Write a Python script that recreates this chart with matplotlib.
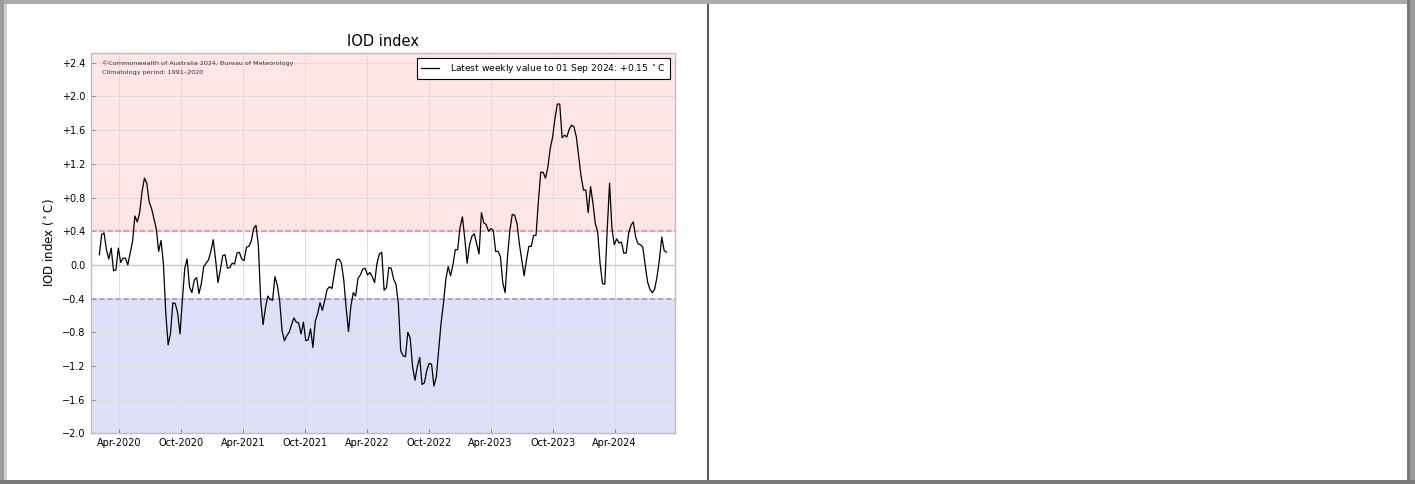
import matplotlib
matplotlib.use("Agg")
import matplotlib.pyplot as plt
import matplotlib.dates as mdates
from matplotlib.patches import Rectangle
from matplotlib.ticker import FuncFormatter, MultipleLocator
import pandas as pd

# ---------------- data ----------------
start_date = "2020-02-02"
iod_values = [
    0.12, 0.36, 0.38, 0.18, 0.07, 0.20, -0.07, -0.06, 0.20, 0.03,
    0.08, 0.08, 0.00, 0.14, 0.28, 0.58, 0.51, 0.62, 0.87, 1.03,
    0.97, 0.75, 0.67, 0.55, 0.43, 0.16, 0.29, 0.02, -0.57, -0.95,
    -0.81, -0.45, -0.46, -0.57, -0.82, -0.42, -0.04, 0.07, -0.26, -0.33,
    -0.18, -0.15, -0.34, -0.22, -0.02, 0.02, 0.06, 0.16, 0.30, 0.06,
    -0.21, -0.06, 0.11, 0.12, -0.04, -0.03, 0.02, 0.01, 0.14, 0.15,
    0.07, 0.05, 0.21, 0.22, 0.28, 0.43, 0.47, 0.24, -0.42, -0.71,
    -0.51, -0.37, -0.41, -0.42, -0.14, -0.24, -0.43, -0.78, -0.90, -0.84,
    -0.80, -0.71, -0.63, -0.68, -0.69, -0.82, -0.68, -0.90, -0.89, -0.76,
    -0.98, -0.67, -0.58, -0.45, -0.54, -0.42, -0.29, -0.26, -0.28, -0.11,
    0.06, 0.07, 0.02, -0.18, -0.51, -0.79, -0.49, -0.33, -0.37, -0.16,
    -0.12, -0.05, -0.04, -0.12, -0.09, -0.14, -0.21, 0.02, 0.13, 0.15,
    -0.30, -0.27, -0.03, -0.04, -0.17, -0.23, -0.46, -1.02, -1.08, -1.09,
    -0.80, -0.87, -1.21, -1.37, -1.21, -1.10, -1.42, -1.40, -1.25, -1.17,
    -1.18, -1.44, -1.33, -1.01, -0.69, -0.46, -0.17, -0.02, -0.13, 0.00,
    0.18, 0.18, 0.45, 0.57, 0.31, 0.02, 0.24, 0.34, 0.37, 0.25,
    0.13, 0.62, 0.50, 0.48, 0.40, 0.43, 0.41, 0.16, 0.16, 0.10,
    -0.21, -0.33, 0.10, 0.41, 0.60, 0.59, 0.49, 0.25, 0.06, -0.13,
    0.06, 0.22, 0.22, 0.35, 0.35, 0.75, 1.10, 1.10, 1.03, 1.16,
    1.38, 1.52, 1.74, 1.91, 1.91, 1.51, 1.54, 1.52, 1.61, 1.66,
    1.64, 1.52, 1.28, 1.05, 0.89, 0.89, 0.62, 0.93, 0.73, 0.49,
    0.39, 0.02, -0.22, -0.23, 0.41, 0.97, 0.43, 0.24, 0.31, 0.26,
    0.27, 0.14, 0.14, 0.37, 0.47, 0.51, 0.33, 0.25, 0.24, 0.21,
    0.00, -0.20, -0.29, -0.33, -0.29, -0.14, 0.06, 0.33, 0.17, 0.15,
]
dates = pd.date_range(start_date, periods=len(iod_values), freq="7D")

title = "IOD index"
ylabel = "IOD index ($^\\circ$C)"
legend_label = "Latest weekly value to 01 Sep 2024: +0.15 $^\\circ$C"
credit_lines = ["\u00a9Commonwealth of Australia 2024, Bureau of Meteorology",
                "Climatology period: 1991\u20132020"]
x_start, x_end = "2020-01-07", "2024-09-26"
pos_threshold, neg_threshold = 0.4, -0.4

# ---------------- figure ----------------
W, H = 1415, 484
fig = plt.figure(figsize=(W / 100, H / 100), dpi=100)
fig.patch.set_facecolor("white")


def px_rect(x0, y0, x1, y1, color):
    fig.add_artist(Rectangle((x0 / W, 1 - y1 / H), (x1 - x0) / W, (y1 - y0) / H,
                             transform=fig.transFigure, facecolor=color,
                             edgecolor="none", zorder=10))


# frame / panel borders
px_rect(0, 0, W, 4, "#ababab")
px_rect(0, 0, 4, H, "#9c9c9c")
px_rect(4, 4, 7, 480, "#d0d0d0")
px_rect(1407, 0, 1410, H, "#7a7a7a")
px_rect(1410, 0, W, H, "#9a9a9a")
px_rect(0, 480, W, H, "#787878")
px_rect(707, 4, 709, 480, "#5a5a5a")

ax = fig.add_axes([90.5 / W, 1 - 433.3 / H, (675 - 90.5) / W, (433.3 - 52.7) / H])
ax.set_axisbelow(True)

ax.axhspan(pos_threshold, 10, color="#fee6e6", lw=0, zorder=0)
ax.axhspan(-10, neg_threshold, color="#dfdffa", lw=0, zorder=0)
ax.grid(True, color="#dcdcdc", lw=0.7, zorder=0.5)
ax.axhline(0, color="#c8c8c8", lw=1.0, zorder=1)
ax.axhline(pos_threshold, color="#ee8686", lw=1.1, ls="--", zorder=1.5)
ax.axhline(neg_threshold, color="#8e8ece", lw=1.1, ls="--", zorder=1.5)

ax.plot(dates, iod_values, color="black", lw=0.9, zorder=3, label=legend_label)

ax.set_xlim(pd.Timestamp(x_start), pd.Timestamp(x_end))
ax.set_ylim(-2.0, 2.52)
ax.yaxis.set_major_locator(MultipleLocator(0.4))


def yfmt(v, pos):
    if abs(v) < 1e-6:
        return "0.0"
    if v > 0:
        return f"+{v:.1f}"
    return f"\u2212{abs(v):.1f}"


ax.yaxis.set_major_formatter(FuncFormatter(yfmt))
ax.xaxis.set_major_locator(mdates.MonthLocator(bymonth=[4, 10], bymonthday=1))
ax.xaxis.set_major_formatter(mdates.DateFormatter("%b-%Y"))

for s in ax.spines.values():
    s.set_color("#bdbdbd")
    s.set_linewidth(1.0)
ax.tick_params(axis="both", direction="in", length=3, width=0.8,
               color="#8c8c8c", labelsize=7, labelcolor="black", pad=3.6)

ax.set_title(title, fontsize=10.5, pad=5)
ax.set_ylabel(ylabel, fontsize=8.5, labelpad=4)

ax.text(0.02, 0.972, credit_lines[0], transform=ax.transAxes, fontsize=4.6,
        color="#333333", va="center", ha="left")
ax.text(0.02, 0.947, credit_lines[1], transform=ax.transAxes, fontsize=4.6,
        color="#333333", va="center", ha="left")

leg = ax.legend(loc="upper right", fontsize=6.6, fancybox=False, framealpha=1,
                edgecolor="black", handlelength=2.0, borderaxespad=0.6,
                borderpad=0.45, handletextpad=1.2)
leg.get_frame().set_linewidth(0.8)

fig.savefig("out.png", dpi=100, facecolor="white")
